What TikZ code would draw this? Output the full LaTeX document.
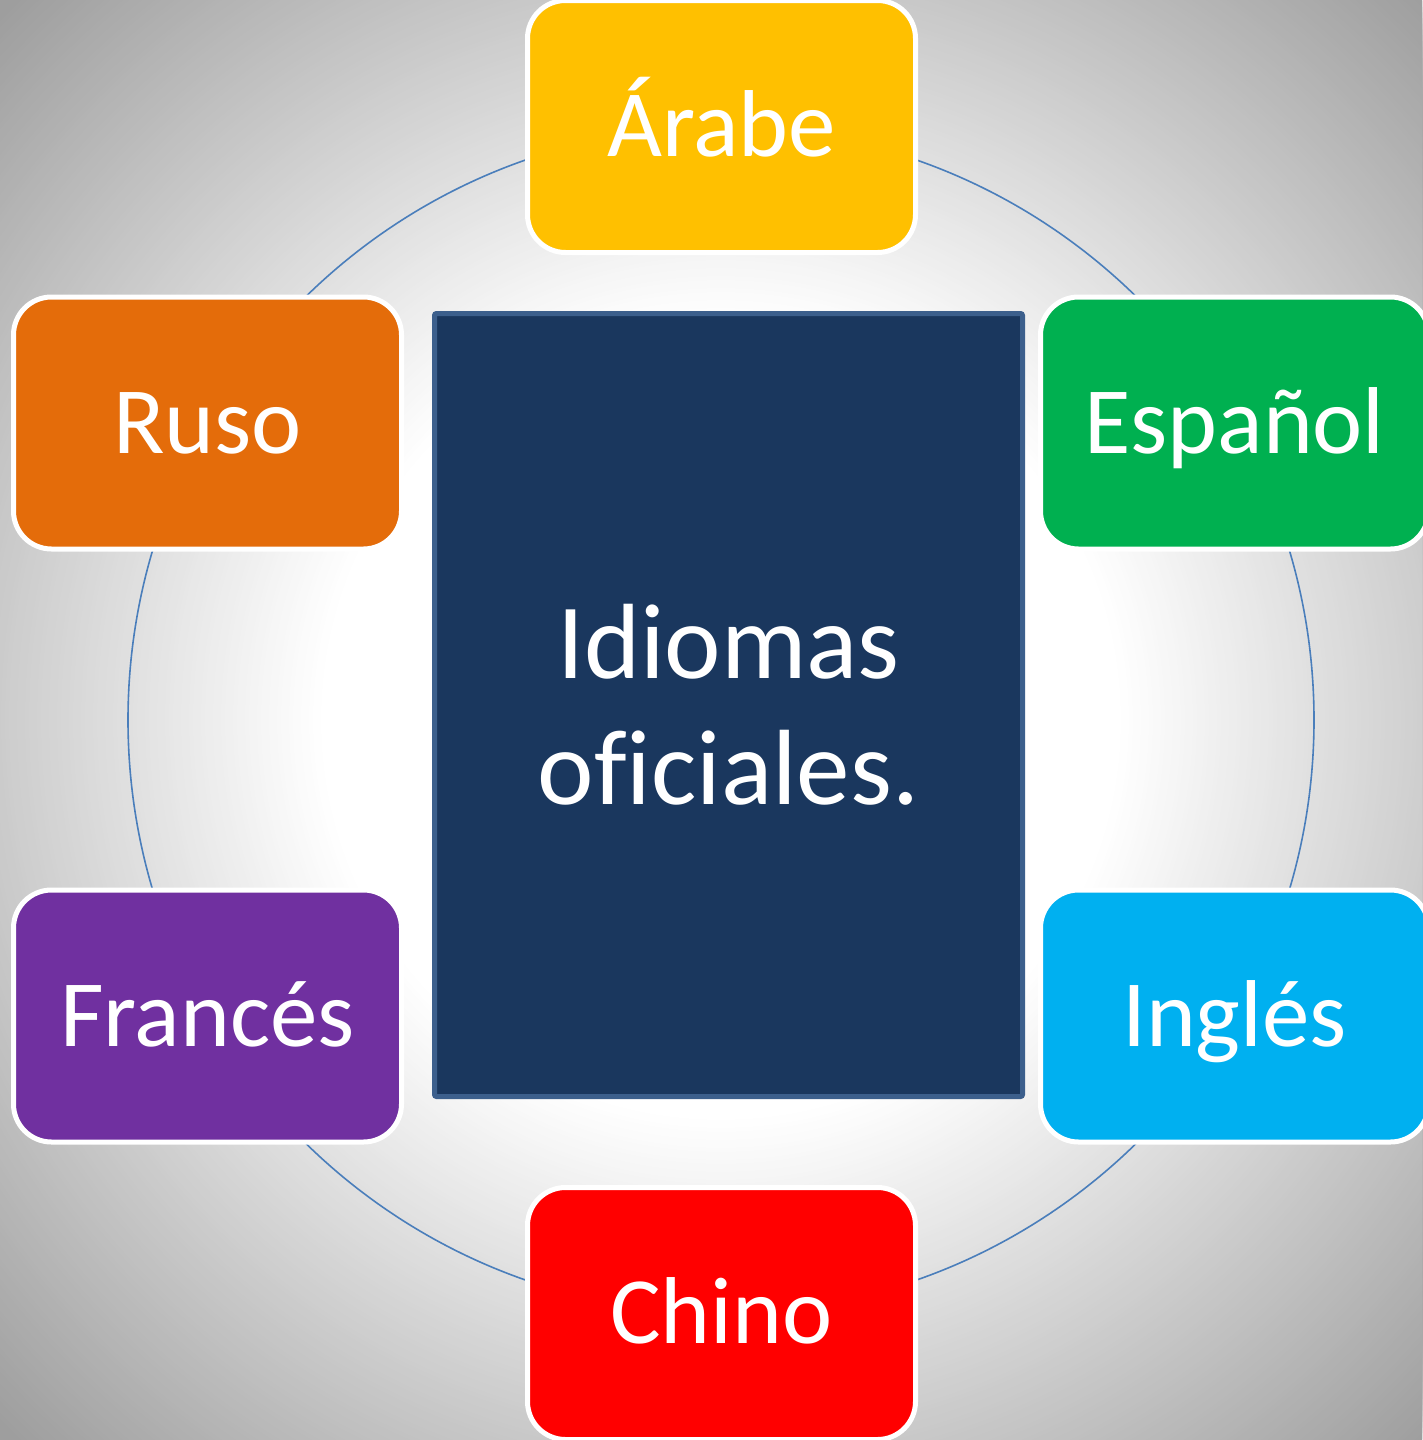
\documentclass[tikz,border=0pt]{standalone}
\usepackage{fontspec}
\setmainfont{Carlito}[Ligatures=NoCommon]
\definecolor{bgout}{RGB}{158,158,158}
\definecolor{cyellow}{HTML}{FFC000}
\definecolor{cgreen}{HTML}{00B050}
\definecolor{ccyan}{HTML}{00B0F0}
\definecolor{cred}{HTML}{FF0000}
\definecolor{cpurple}{HTML}{7030A0}
\definecolor{corange}{HTML}{E46C0A}
\definecolor{cnavy}{HTML}{1A375E}
\definecolor{cborder}{HTML}{3C5F8C}
\definecolor{ringblue}{HTML}{4A7EBB}
\begin{document}
\begin{tikzpicture}[x=1pt,y=-1pt,
  lang/.style={rounded corners=38pt, draw=white, line width=5pt,
    minimum width=388pt, minimum height=252pt, inner sep=0pt,
    text=white, font=\fontsize{95}{114}\selectfont,
    text height=60pt, text depth=0pt},
  ring/.style={draw=ringblue, line width=1.6pt},
  hub/.style={draw=cborder, fill=cnavy, line width=5pt, rounded corners=2pt,
    minimum width=588pt, minimum height=783pt, inner sep=0pt,
    text=white, align=center, font=\fontsize{107}{126}\selectfont}]
\useasboundingbox (0,0) rectangle (1422,1440);
\coordinate (c) at (721,720);
\begin{scope}
  \clip (0,0) rectangle (1422,1440);
  \fill[bgout] (0,0) rectangle (1422,1440);
  \foreach \r in {1012,1008,...,400} {
    \pgfmathsetmacro\p{max(0,min(100,(1011-\r)/6.11))}
    \fill[white!\p!bgout] (c) circle[radius=\r];
  }
  \fill[white] (c) circle[radius=400];
\end{scope}
\draw[ring] (c) circle[radius=593];
\node[hub] (center) at (728.5,705) {Idiomas\\oficiales.};
\node[lang, fill=cyellow] (arabe) at (721.5,126.5) {Árabe};
\node[lang, fill=cgreen] (espanol) at (1234.5,423) {Español};
\node[lang, fill=ccyan] (ingles) at (1234.5,1016) {Inglés};
\node[lang, fill=cred] (chino) at (721.5,1313.5) {Chino};
\node[lang, fill=cpurple] (frances) at (207.5,1016) {Francés};
\node[lang, fill=corange] (ruso) at (207.5,423) {Ruso};
\end{tikzpicture}
\end{document}
